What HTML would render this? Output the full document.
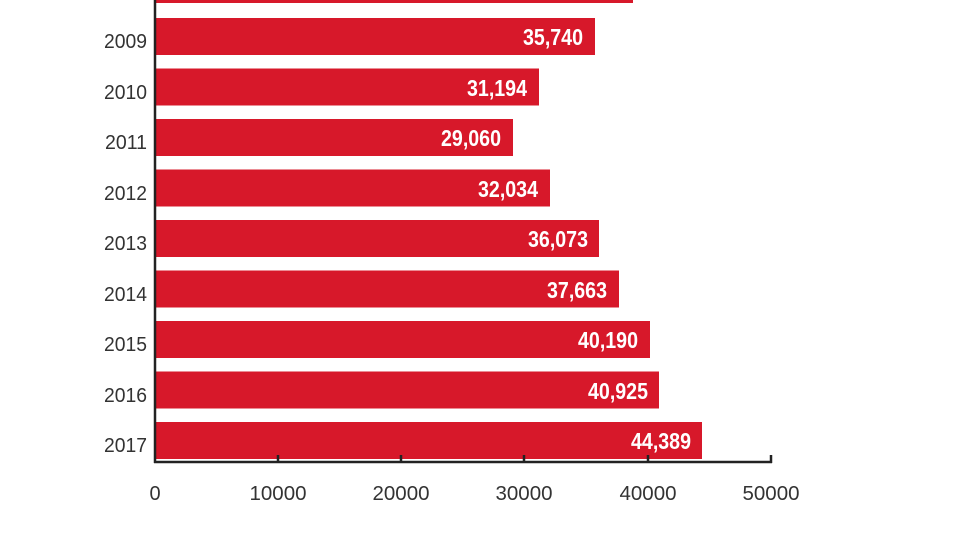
<!DOCTYPE html>
<html><head><style>
html,body{margin:0;padding:0;background:#fff;}
svg{display:block;}
.y{font-family:"Liberation Sans",sans-serif;font-size:20px;fill:#333;}
.v{font-family:"Liberation Sans",sans-serif;font-size:23px;font-weight:bold;fill:#fff;}
.t{font-family:"Liberation Sans",sans-serif;font-size:20px;fill:#333;}
</style></head><body>
<svg width="980" height="552" viewBox="0 0 980 552">
<g fill="#d7182a">
<rect x="155" y="-33" width="478" height="36"/>
<rect x="155" y="18" width="440" height="37"/>
<rect x="155" y="68.5" width="384" height="37"/>
<rect x="155" y="119" width="358" height="37"/>
<rect x="155" y="169.5" width="395" height="37"/>
<rect x="155" y="220" width="444" height="37"/>
<rect x="155" y="270.5" width="464" height="37"/>
<rect x="155" y="321" width="495" height="37"/>
<rect x="155" y="371.5" width="504" height="37"/>
<rect x="155" y="422" width="547" height="37"/>
</g>
<g class="y">
<text x="104" y="48" textLength="43" lengthAdjust="spacingAndGlyphs">2009</text>
<text x="104" y="99" textLength="43" lengthAdjust="spacingAndGlyphs">2010</text>
<text x="105" y="149" textLength="42" lengthAdjust="spacingAndGlyphs">2011</text>
<text x="104" y="200" textLength="43" lengthAdjust="spacingAndGlyphs">2012</text>
<text x="104" y="250" textLength="43" lengthAdjust="spacingAndGlyphs">2013</text>
<text x="104" y="301" textLength="43" lengthAdjust="spacingAndGlyphs">2014</text>
<text x="104" y="351" textLength="43" lengthAdjust="spacingAndGlyphs">2015</text>
<text x="104" y="402" textLength="43" lengthAdjust="spacingAndGlyphs">2016</text>
<text x="104" y="452" textLength="43" lengthAdjust="spacingAndGlyphs">2017</text>
</g>
<g class="v">
<text x="523" y="45" textLength="60" lengthAdjust="spacingAndGlyphs">35,740</text>
<text x="467" y="96" textLength="60" lengthAdjust="spacingAndGlyphs">31,194</text>
<text x="441" y="146" textLength="60" lengthAdjust="spacingAndGlyphs">29,060</text>
<text x="478" y="197" textLength="60" lengthAdjust="spacingAndGlyphs">32,034</text>
<text x="528" y="247" textLength="60" lengthAdjust="spacingAndGlyphs">36,073</text>
<text x="547" y="298" textLength="60" lengthAdjust="spacingAndGlyphs">37,663</text>
<text x="578" y="348" textLength="60" lengthAdjust="spacingAndGlyphs">40,190</text>
<text x="588" y="399" textLength="60" lengthAdjust="spacingAndGlyphs">40,925</text>
<text x="631" y="449" textLength="60" lengthAdjust="spacingAndGlyphs">44,389</text>
</g>
<g stroke="#222" stroke-width="2.5">
<line x1="155" y1="0" x2="155" y2="463"/>
<line x1="154" y1="462" x2="772" y2="462"/>
<line x1="278" y1="455" x2="278" y2="462"/>
<line x1="401" y1="455" x2="401" y2="462"/>
<line x1="524" y1="455" x2="524" y2="462"/>
<line x1="648" y1="455" x2="648" y2="462"/>
<line x1="771" y1="455" x2="771" y2="463"/>
</g>
<g class="t" text-anchor="middle">
<text x="155" y="500">0</text>
<text x="278" y="500" textLength="57" lengthAdjust="spacingAndGlyphs">10000</text>
<text x="401" y="500" textLength="57" lengthAdjust="spacingAndGlyphs">20000</text>
<text x="524" y="500" textLength="57" lengthAdjust="spacingAndGlyphs">30000</text>
<text x="648" y="500" textLength="57" lengthAdjust="spacingAndGlyphs">40000</text>
<text x="771" y="500" textLength="57" lengthAdjust="spacingAndGlyphs">50000</text>
</g>
</svg>
</body></html>
